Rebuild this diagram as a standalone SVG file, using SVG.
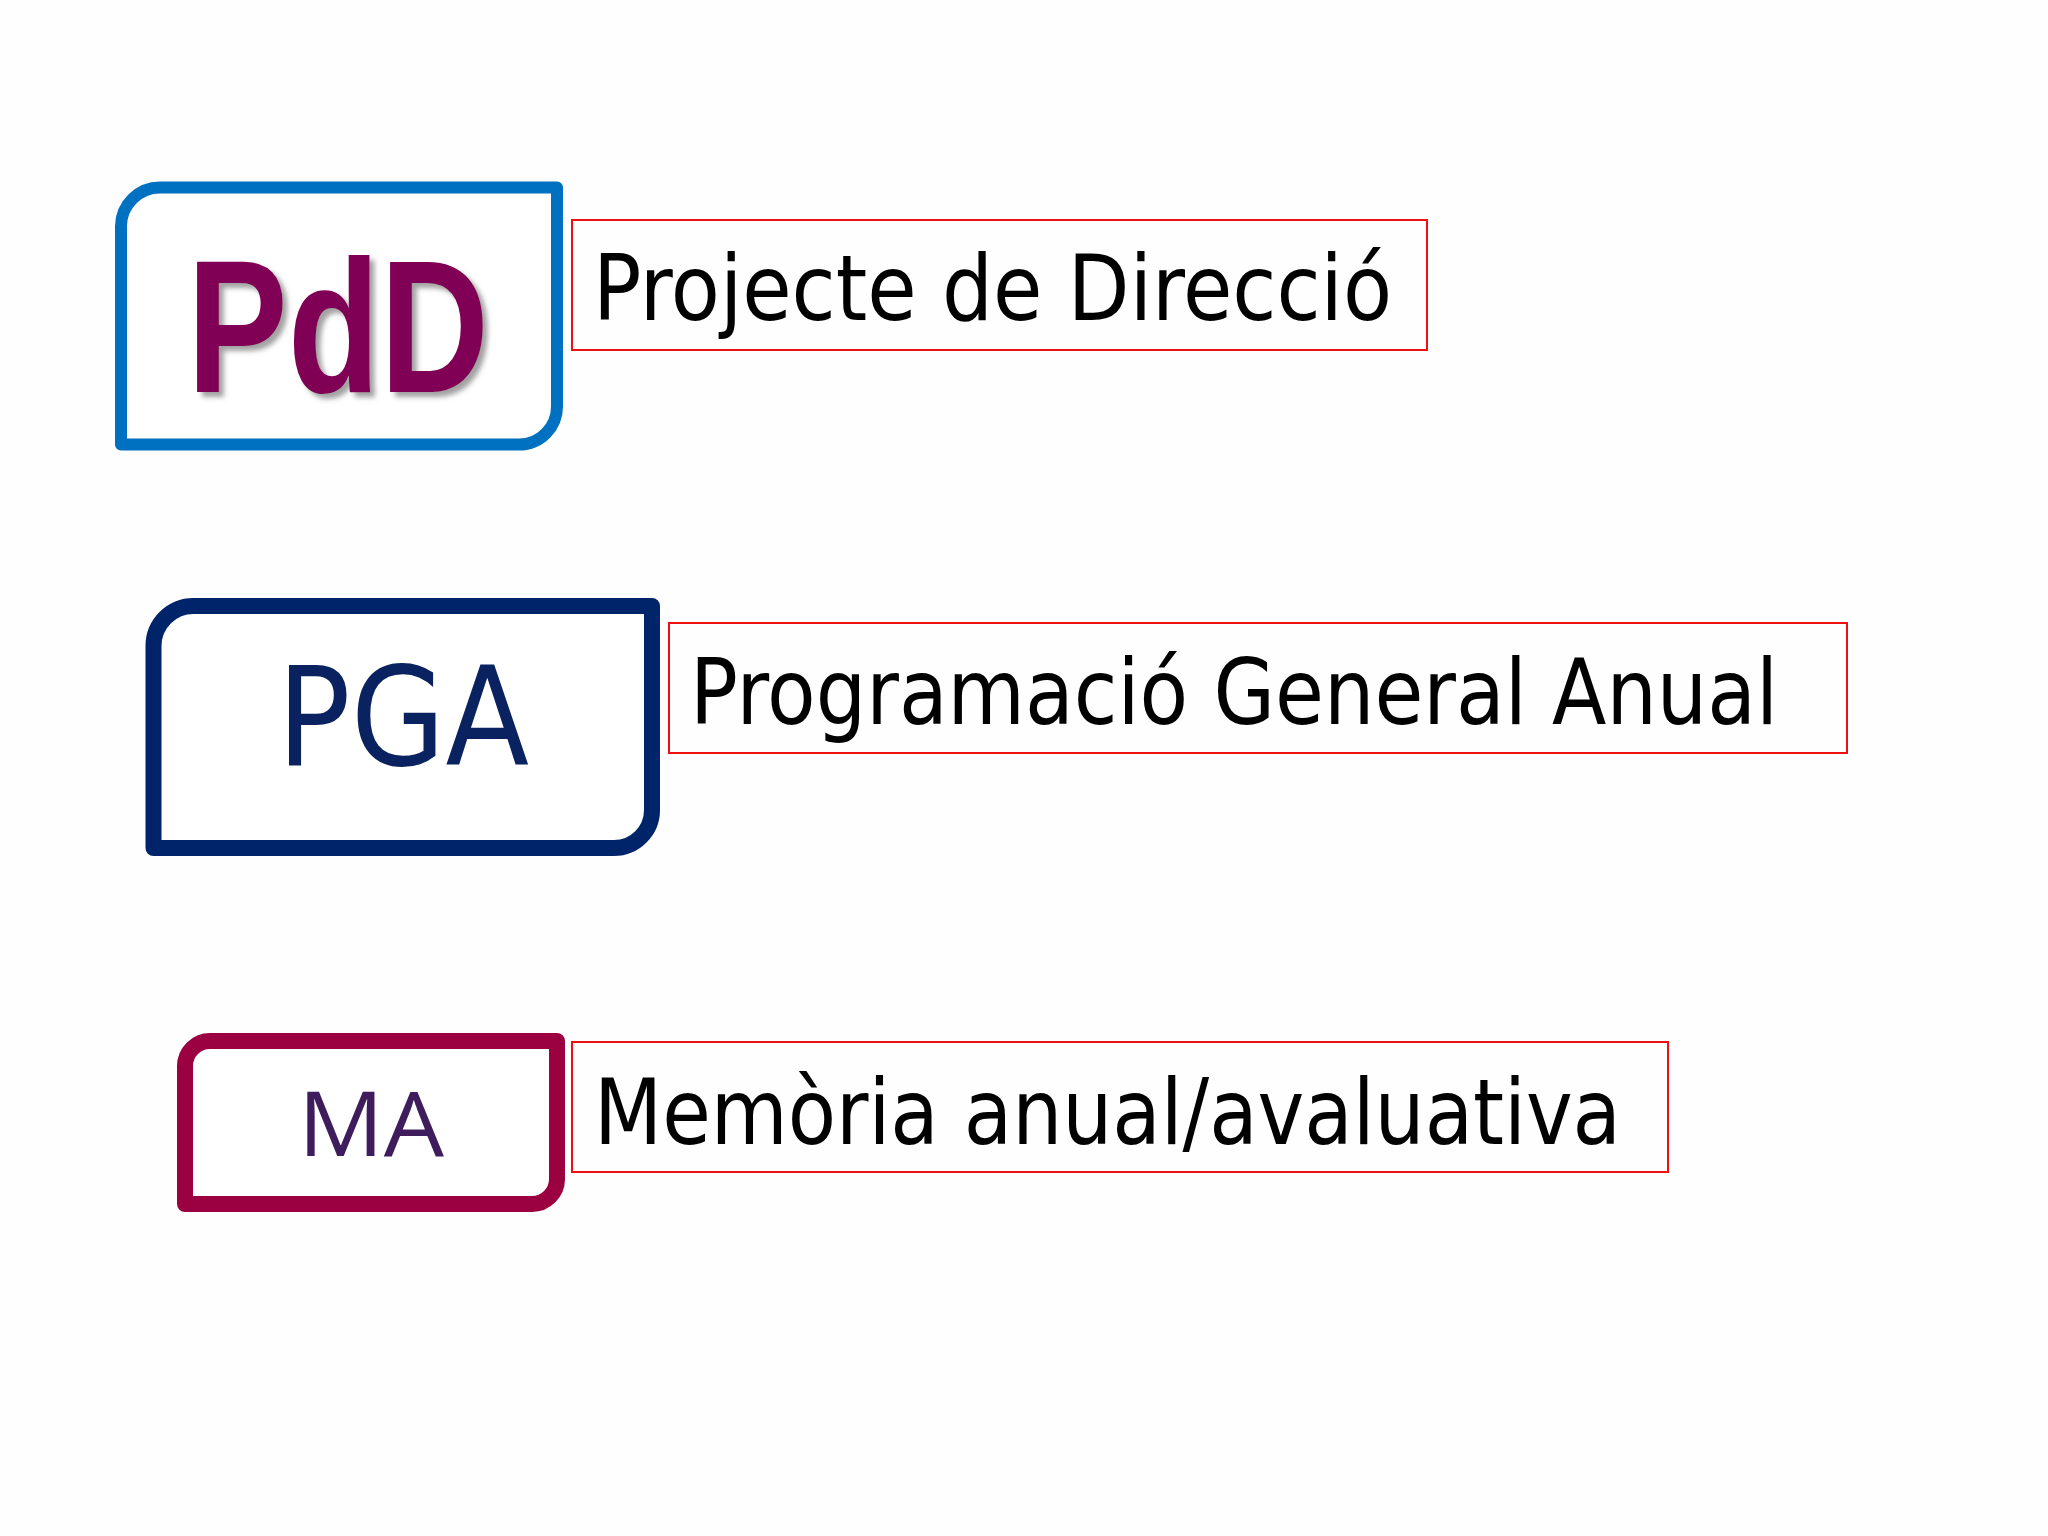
<svg xmlns="http://www.w3.org/2000/svg" width="2048" height="1536" viewBox="0 0 2048 1536">
  <style>
    .frame { fill: #ffffff; stroke-linejoin: round; }
    .label-box { fill: none; stroke: #ee1111; stroke-width: 2; }
    .label { font-family: "DejaVu Sans Condensed", "DejaVu Sans", Verdana, sans-serif; font-size: 90px; fill: #000000; }
  </style>
  <defs>
    <filter id="shadow" x="-10%" y="-10%" width="130%" height="130%">
      <feDropShadow dx="5" dy="5" stdDeviation="2.5" flood-color="#555555" flood-opacity="0.55"/>
    </filter>
  </defs>
  <rect x="0" y="0" width="2048" height="1536" fill="#fefefe"/>

  <g id="node-pdd">
    <path class="frame" d="M160,187.5 H557 V406 A38,38 0 0 1 519,444.5 H121 V226 A39,39 0 0 1 160,187.5 Z" stroke="#0070c0" stroke-width="12"/>
    <text x="187" y="392" font-family="'Liberation Sans', Arial, sans-serif" font-weight="bold" font-size="189" fill="#800055" textLength="302" lengthAdjust="spacingAndGlyphs" filter="url(#shadow)">PdD</text>
  </g>
  <g id="label-pdd">
    <rect class="label-box" x="572" y="220" width="855" height="130"/>
    <text class="label" x="593" y="320" textLength="799" lengthAdjust="spacingAndGlyphs">Projecte de Direcció</text>
  </g>

  <g id="node-pga">
    <path class="frame" d="M194,606 H652 V810 A38,38 0 0 1 614,848 H153.5 V646 A40,40 0 0 1 194,606 Z" stroke="#002469" stroke-width="16"/>
    <text x="277" y="765" font-family="'DejaVu Sans Condensed', 'DejaVu Sans', sans-serif" font-size="137" fill="#0a2360" textLength="252" lengthAdjust="spacingAndGlyphs">PGA</text>
  </g>
  <g id="label-pga">
    <rect class="label-box" x="669" y="623" width="1178" height="130"/>
    <text class="label" x="690" y="724" textLength="1088" lengthAdjust="spacingAndGlyphs">Programació General Anual</text>
  </g>

  <g id="node-ma">
    <path class="frame" d="M210,1041 H557 V1179 A25,25 0 0 1 532,1204 H185 V1066 A25,25 0 0 1 210,1041 Z" stroke="#9b0040" stroke-width="16"/>
    <text x="298" y="1156" font-family="'Open Sans', 'Noto Sans', sans-serif" font-size="89" fill="#3f1c5c" textLength="146" lengthAdjust="spacingAndGlyphs">MA</text>
  </g>
  <g id="label-ma">
    <rect class="label-box" x="572" y="1042" width="1096" height="130"/>
    <text class="label" x="594" y="1144" textLength="1027" lengthAdjust="spacingAndGlyphs">Memòria anual/avaluativa</text>
  </g>

  <g id="connectors"/>
</svg>
